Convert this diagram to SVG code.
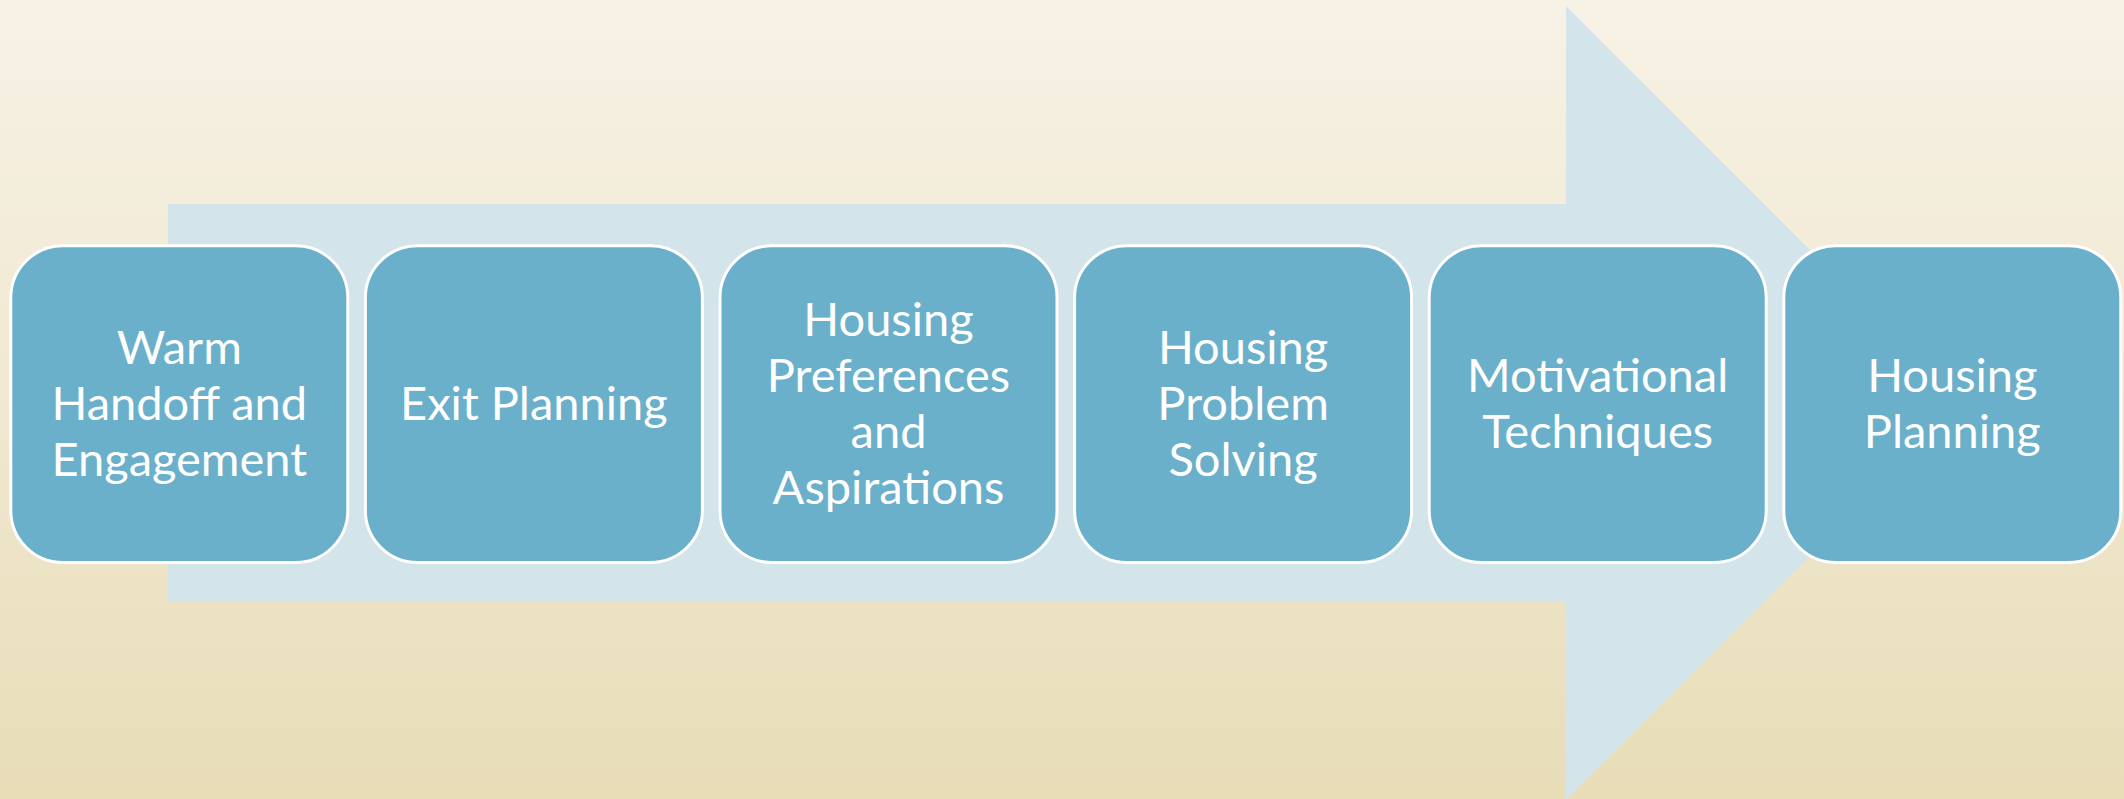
<svg xmlns="http://www.w3.org/2000/svg" width="2124" height="799" viewBox="0 0 2124 799">
  <defs>
    <linearGradient id="bg" x1="0" y1="0" x2="0" y2="1">
      <stop offset="0" stop-color="#F7F2E6"/>
      <stop offset="0.5" stop-color="#F0E8D1"/>
      <stop offset="1" stop-color="#E8DDB7"/>
    </linearGradient>
    <style>
      .step { fill: #6BB0CA; stroke: #FFFFFF; stroke-width: 3; }
      .label { fill: #FFFFFF; font-family: Lato, "Open Sans", "Liberation Sans", sans-serif; font-size: 47px; text-anchor: middle; }
    </style>
  </defs>

  <!-- backdrop -->
  <rect x="0" y="0" width="2124" height="799" fill="url(#bg)"/>

  <!-- connectors: the broad process arrow behind the steps -->
  <g id="connectors">
    <polygon points="168,204 1566,204 1566,6 1963,403 1566,800 1566,602 168,602" fill="#D3E4EB"/>
  </g>

  <!-- process steps -->
  <g id="step1">
    <rect class="step" x="10.8" y="245.8" width="337" height="316.7" rx="52" ry="52"/>
    <text class="label" x="179.3" y="364">Warm</text>
    <text class="label" x="179.3" y="420">Handoff and</text>
    <text class="label" x="179.3" y="476">Engagement</text>
  </g>
  <g id="step2">
    <rect class="step" x="365.4" y="245.8" width="337" height="316.7" rx="52" ry="52"/>
    <text class="label" x="533.9" y="420">Exit Planning</text>
  </g>
  <g id="step3">
    <rect class="step" x="720" y="245.8" width="337" height="316.7" rx="52" ry="52"/>
    <text class="label" x="888.5" y="336">Housing</text>
    <text class="label" x="888.5" y="392">Preferences</text>
    <text class="label" x="888.5" y="448">and</text>
    <text class="label" x="888.5" y="504">Aspirations</text>
  </g>
  <g id="step4">
    <rect class="step" x="1074.6" y="245.8" width="337" height="316.7" rx="52" ry="52"/>
    <text class="label" x="1243.1" y="364">Housing</text>
    <text class="label" x="1243.1" y="420">Problem</text>
    <text class="label" x="1243.1" y="476">Solving</text>
  </g>
  <g id="step5">
    <rect class="step" x="1429.2" y="245.8" width="337" height="316.7" rx="52" ry="52"/>
    <text class="label" x="1597.7" y="392">Motivational</text>
    <text class="label" x="1597.7" y="448">Techniques</text>
  </g>
  <g id="step6">
    <rect class="step" x="1783.8" y="245.8" width="337" height="316.7" rx="52" ry="52"/>
    <text class="label" x="1952.3" y="392">Housing</text>
    <text class="label" x="1952.3" y="448">Planning</text>
  </g>
</svg>
